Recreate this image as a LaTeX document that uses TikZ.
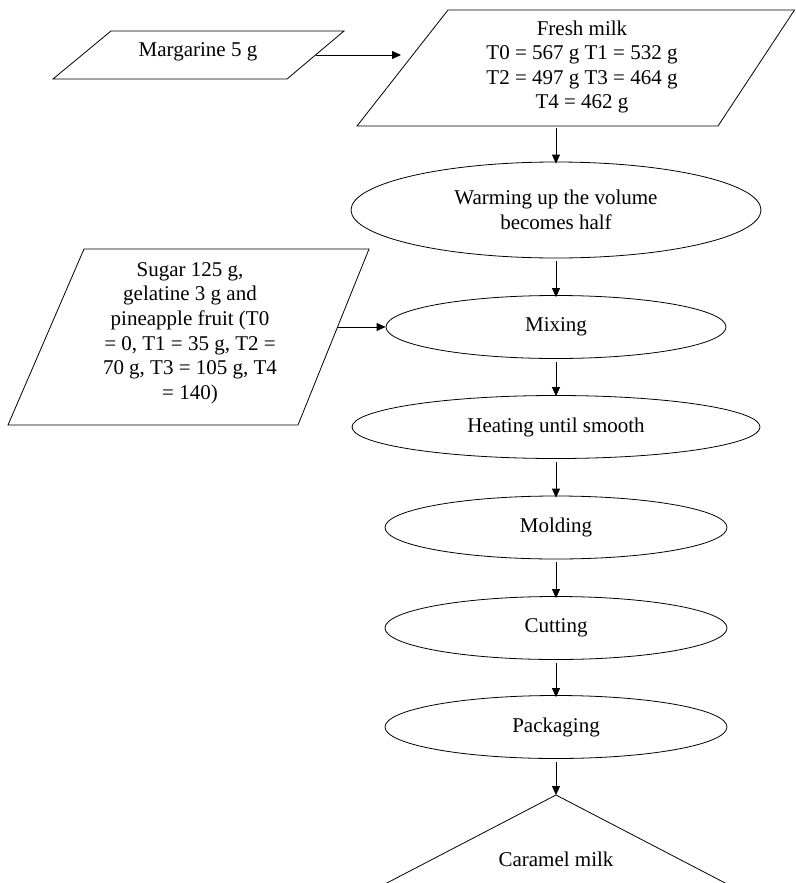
\documentclass[tikz,border=0pt]{standalone}
\usepackage{fontspec}
\setmainfont{Liberation Serif}
\usetikzlibrary{shapes.geometric,arrows.meta,calc}
\begin{document}
\begin{tikzpicture}[x=1pt,y=-1pt,
  every node/.style={font=\fontsize{21}{24.6}\selectfont},
  proc/.style={draw,ellipse,line width=0.8pt,inner sep=0pt},
  txt/.style={align=center,inner sep=0pt},
  flow/.style={-{Triangle[length=9pt,width=8pt]},line width=0.8pt},
  outline/.style={draw,line width=0.8pt,line join=miter}]
\useasboundingbox (0,0) rectangle (795,883);

% Margarine input
\coordinate (m1) at (111,31);
\coordinate (m2) at (344,31);
\coordinate (m3) at (287,79);
\coordinate (m4) at (53,79);
\draw[outline] (m1)--(m2)--(m3)--(m4)--cycle;
\node[txt] (marg) at (198,52) {Margarine 5 g};

% Fresh milk input
\coordinate (f1) at (448,10);
\coordinate (f2) at (794.5,10);
\coordinate (f3) at (718,126);
\coordinate (f4) at (357,126);
\draw[outline] (f1)--(f2)--(f3)--(f4)--cycle;
\node[txt] (milk) at (582,67) {Fresh milk\\T0 = 567 g T1 = 532 g\\T2 = 497 g T3 = 464 g\\T4 = 462 g};
\coordinate (fin) at (401,55);
\coordinate (fbot) at (556,128);

% Sugar input
\coordinate (s1) at (84,249);
\coordinate (s2) at (369,249);
\coordinate (s3) at (298,425);
\coordinate (s4) at (8,425);
\draw[outline] (s1)--(s2)--(s3)--(s4)--cycle;
\node[txt] (sugar) at (190,333) {Sugar 125 g,\\gelatine 3 g and\\pineapple fruit (T0\\= 0, T1 = 35 g, T2 =\\70 g, T3 = 105 g, T4\\= 140)};

% Process steps
\node[proc,minimum width=410pt,minimum height=96pt,align=center] (warm) at (556,210) {Warming up the volume\\becomes half};
\node[proc,minimum width=340pt,minimum height=63pt] (mix) at (556,327) {Mixing};
\node[proc,minimum width=408pt,minimum height=63pt] (heat) at (556,427) {Heating until smooth};
\node[proc,minimum width=342pt,minimum height=63pt] (mold) at (556,527.5) {Molding};
\node[proc,minimum width=342pt,minimum height=63pt] (cut) at (556,628) {Cutting};
\node[proc,minimum width=342pt,minimum height=63pt] (pack) at (556,727) {Packaging};

% Output
\coordinate (apex) at (556,795);
\coordinate (tl) at (383,885);
\coordinate (tr) at (729,885);
\draw[outline] (tl)--(apex)--(tr);
\node[txt] (caramel) at (556,859) {Caramel milk};

% Connectors
\coordinate (mout) at ($(m2)!0.5!(m3)$);
\draw[flow] (mout) -- (mout -| fin);
\draw[flow] (fbot) -- ([yshift=-2pt]warm.north);
\coordinate (sout) at ($(s2)!0.443!(s3)$);
\draw[flow] (sout) -- (sout -| mix.west);
\draw[flow,shorten <=3pt] (warm.south) -- ([yshift=-2pt]mix.north);
\draw[flow,shorten <=3pt] (mix.south) -- ([yshift=-1pt]heat.north);
\draw[flow,shorten <=3pt] (heat.south) -- ([yshift=-2pt]mold.north);
\draw[flow,shorten <=3pt] (mold.south) -- ([yshift=-2pt]cut.north);
\draw[flow,shorten <=3pt] (cut.south) -- ([yshift=-2pt]pack.north);
\draw[flow,shorten <=3pt] (pack.south) -- (apex);
\end{tikzpicture}
\end{document}
